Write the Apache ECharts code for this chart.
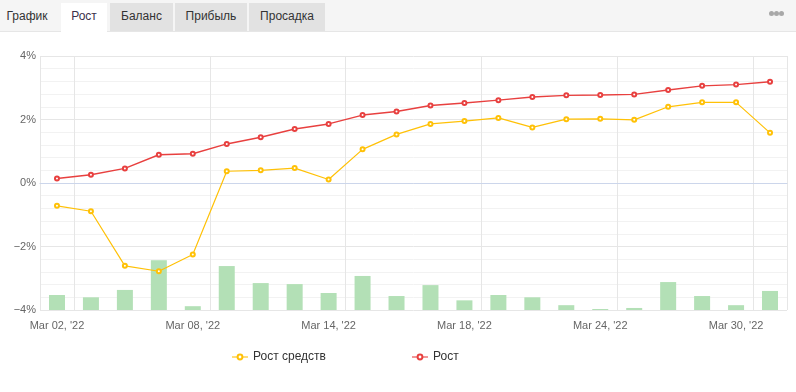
<!DOCTYPE html>
<html>
<head>
<meta charset="utf-8">
<script src="https://cdn.jsdelivr.net/npm/echarts@6/dist/echarts.min.js"></script>
<style>
  html, body { margin: 0; padding: 0; background: #fff; }
  #wrap { position: relative; width: 796px; height: 392px; overflow: hidden; font-family: "Liberation Sans", Arial, sans-serif; }
  #chart { position: absolute; left: 0; top: 0; width: 796px; height: 392px; }
  #tabs { position: absolute; left: 0; top: 0; width: 796px; height: 31px; background: #f5f5f5; border-bottom: 1px solid #e6e6e6; z-index: 2; }
  .tab { position: absolute; top: 3px; height: 28px; line-height: 27px; font-size: 12px; color: #333; text-align: center; }
  .tab.gray { background: #e2e2e2; }
  .tab.active { background: #fff; color: #3b2f4a; height: 29px; }
  .dots { position: absolute; top: 11px; left: 769px; }
  .dots span { display: inline-block; width: 5px; height: 5px; border-radius: 50%; background: #a8a8a8; float: left; }
</style>
</head>
<body>
<div id="wrap">
  <div id="chart"></div>
  <div id="tabs">
    <div class="tab" style="left:0px;width:54px;">График</div>
    <div class="tab active" style="left:61px;width:46px;">Рост</div>
    <div class="tab gray" style="left:110px;width:63px;">Баланс</div>
    <div class="tab gray" style="left:175px;width:72px;">Прибыль</div>
    <div class="tab gray" style="left:249px;width:76px;">Просадка</div>
    <div class="dots"><span></span><span></span><span></span></div>
  </div>
</div>
<script>
const categories = ["Mar 02, '22","Mar 03, '22","Mar 04, '22","Mar 07, '22","Mar 08, '22","Mar 09, '22","Mar 10, '22","Mar 11, '22","Mar 14, '22","Mar 15, '22","Mar 16, '22","Mar 17, '22","Mar 18, '22","Mar 21, '22","Mar 22, '22","Mar 23, '22","Mar 24, '22","Mar 25, '22","Mar 28, '22","Mar 29, '22","Mar 30, '22","Mar 31, '22"];
const equityGrowth = [-0.72,-0.89,-2.61,-2.78,-2.25,0.37,0.40,0.47,0.11,1.06,1.53,1.86,1.95,2.05,1.75,2.01,2.02,1.99,2.40,2.54,2.54,1.58];
const growth = [0.14,0.26,0.46,0.89,0.92,1.23,1.44,1.70,1.86,2.14,2.25,2.44,2.52,2.61,2.71,2.76,2.77,2.79,2.93,3.06,3.10,3.19];
const activity = [5.9,5.0,7.9,19.6,1.5,17.3,10.6,10.2,6.7,13.4,5.5,9.8,3.8,5.9,5.0,1.9,0.4,0.8,11.0,5.5,1.9,7.5];
const yTicks = { min: -4, max: 4, step: 2 };
const seriesNames = ["Рост средств", "Рост"];

const font = '"Liberation Sans", Arial, sans-serif';
const chart = echarts.init(document.getElementById('chart'), null, { renderer: 'canvas' });
const legendBase = { itemWidth: 16, itemHeight: 6, top: 346, textStyle: { fontSize: 12, color: '#333', fontFamily: font }, lineStyle: { width: 2, opacity: 0.55 } };
chart.setOption({
  animation: false,
  textStyle: { fontFamily: font },
  grid: { left: 40, right: 9, top: 56, bottom: 82, containLabel: false },
  legend: [
    Object.assign({ data: [seriesNames[0]], left: 226 }, legendBase),
    Object.assign({ data: [seriesNames[1]], left: 406 }, legendBase)
  ],
  xAxis: {
    type: 'category',
    data: categories,
    boundaryGap: true,
    axisLine: { lineStyle: { color: '#ccd6eb' } },
    axisTick: { show: false },
    axisLabel: { interval: 3, color: '#666', fontSize: 11, margin: 10, fontFamily: font },
    splitLine: { show: true, interval: function (i) { return i === 0 || i % 4 === 1; }, lineStyle: { color: '#e6e6e6' } }
  },
  yAxis: [
    {
      type: 'value', min: yTicks.min, max: yTicks.max, interval: yTicks.step,
      axisLine: { show: false }, axisTick: { show: false },
      axisLabel: { color: '#666', fontSize: 11, margin: 4, fontFamily: font, formatter: function (v) { return (v < 0 ? '\u2212' : '') + Math.abs(v) + '%'; } },
      splitLine: { lineStyle: { color: '#e6e6e6' } },
      minorTick: { show: false, splitNumber: 5 },
      minorSplitLine: { show: true, lineStyle: { color: '#f2f2f2' } }
    },
    { type: 'value', min: 0, max: 100, show: false, splitLine: { show: false } }
  ],
  series: [
    { name: 'activity', type: 'bar', yAxisIndex: 1, data: activity, barWidth: 16, itemStyle: { color: '#b3e0b6' }, z: 1, silent: true },
    { name: seriesNames[0], type: 'line', data: equityGrowth, symbol: 'emptyCircle', symbolSize: 4, color: '#ffc107', lineStyle: { width: 1.2, color: '#ffc107' }, itemStyle: { color: '#ffc107', borderWidth: 1.3 }, z: 3 },
    { name: seriesNames[1], type: 'line', data: growth, symbol: 'emptyCircle', symbolSize: 4, color: '#e8403f', lineStyle: { width: 1.4, color: '#e8403f' }, itemStyle: { color: '#e8403f', borderWidth: 1.3 }, z: 4 }
  ]
});
</script>
</body>
</html>
